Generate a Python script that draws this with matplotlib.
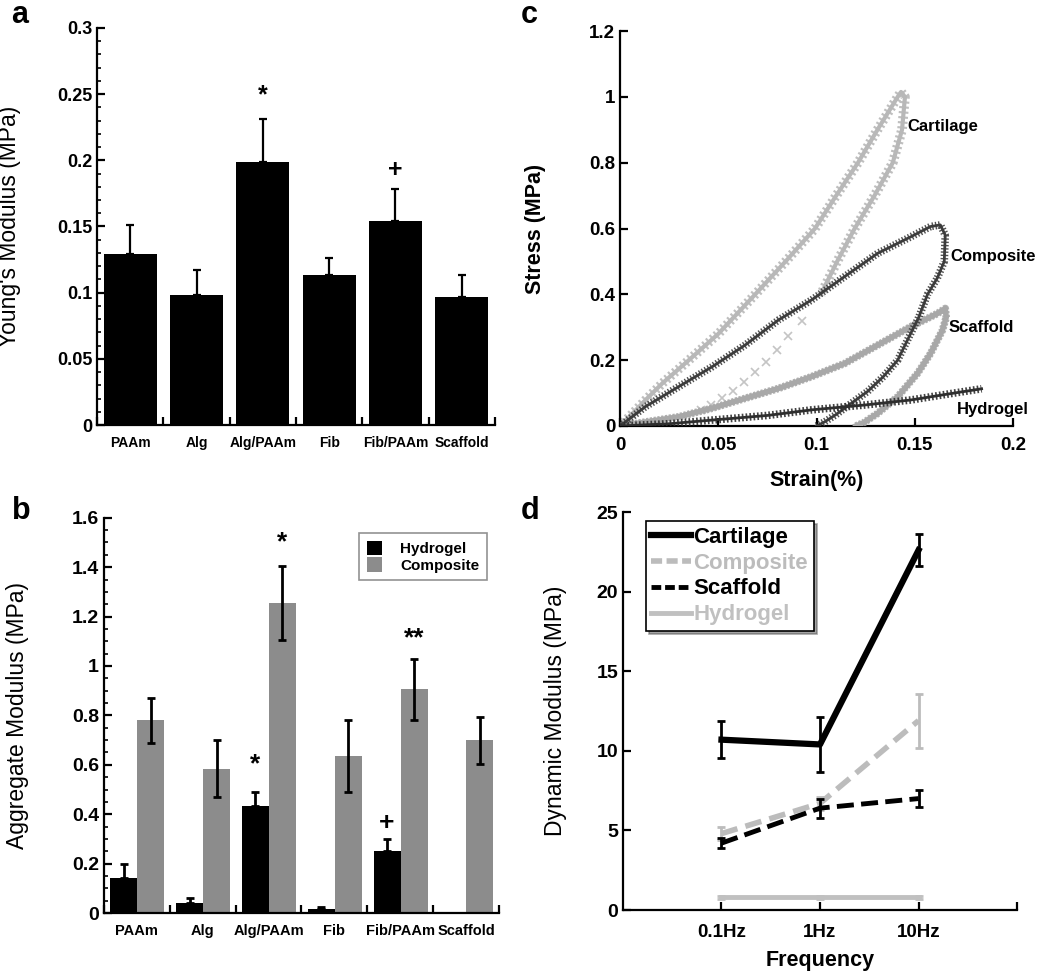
import matplotlib
matplotlib.use("Agg")
import matplotlib.pyplot as plt
from matplotlib.lines import Line2D
from matplotlib.ticker import MultipleLocator
import numpy as np

plt.rcParams['font.family'] = ['Liberation Sans', 'DejaVu Sans']
plt.rcParams['font.weight'] = 'bold'

# ---------------- data ----------------
# panel a
cats = ["PAAm", "Alg", "Alg/PAAm", "Fib", "Fib/PAAm", "Scaffold"]
young = [0.129, 0.098, 0.199, 0.113, 0.154, 0.097]
young_err = [0.022, 0.019, 0.032, 0.013, 0.024, 0.016]
a_marks = {"Alg/PAAm": ("*", 0.249), "Fib/PAAm": ("+", 0.193)}

# panel b
hydrogel_agg = [0.14, 0.04, 0.435, 0.015, 0.25, 0.0]
hydrogel_agg_err = [0.06, 0.02, 0.055, 0.01, 0.05, 0.0]
composite_agg = [0.78, 0.585, 1.255, 0.635, 0.905, 0.70]
composite_agg_err = [0.09, 0.115, 0.15, 0.145, 0.125, 0.095]

# panel c: stress-strain hysteresis loops (strain, stress)
cart_load_x = [0, 0.0064, 0.013, 0.0216, 0.035, 0.05, 0.0688, 0.085, 0.0992, 0.11, 0.1211, 0.131, 0.1413, 0.143]
cart_load_y = [0, 0.038, 0.079, 0.13, 0.20, 0.28, 0.40, 0.505, 0.60, 0.70, 0.80, 0.90, 1.0, 1.015]
cart_unl_x = [0.143, 0.145, 0.1435, 0.1388, 0.1295, 0.1194, 0.1105, 0.1022]
cart_unl_y = [1.015, 1.0, 0.90, 0.80, 0.70, 0.60, 0.50, 0.40]
cart_sparse_x = [0.0924, 0.0857, 0.0798, 0.0742, 0.0688, 0.0632, 0.0575, 0.052, 0.0464, 0.041]
cart_sparse_y = [0.318, 0.272, 0.231, 0.195, 0.165, 0.135, 0.106, 0.084, 0.064, 0.048]

comp_load_x = [0, 0.013, 0.030, 0.0469, 0.0637, 0.0806, 0.0975, 0.1143, 0.1312, 0.148, 0.158, 0.163]
comp_load_y = [0, 0.059, 0.12, 0.18, 0.246, 0.322, 0.383, 0.454, 0.525, 0.575, 0.606, 0.611]
comp_unl_x = [0.163, 0.1655, 0.165, 0.1615, 0.1565, 0.152, 0.147, 0.1413, 0.134, 0.126, 0.1177, 0.11, 0.104, 0.100]
comp_unl_y = [0.611, 0.58, 0.50, 0.45, 0.40, 0.33, 0.27, 0.20, 0.15, 0.105, 0.069, 0.035, 0.012, 0.0]

scaf_load_x = [0, 0.03, 0.0469, 0.0637, 0.0806, 0.0975, 0.1143, 0.1312, 0.148, 0.1616, 0.1655]
scaf_load_y = [0, 0.028, 0.054, 0.084, 0.114, 0.15, 0.19, 0.246, 0.302, 0.342, 0.357]
scaf_unl_x = [0.1655, 0.166, 0.164, 0.158, 0.1514, 0.1413, 0.131, 0.124, 0.12]
scaf_unl_y = [0.357, 0.33, 0.29, 0.22, 0.16, 0.089, 0.038, 0.01, 0.0]

hyd_load_x = [0, 0.0255, 0.047, 0.075, 0.0975, 0.125, 0.148, 0.17, 0.184]
hyd_load_y = [0, 0.007, 0.018, 0.032, 0.049, 0.064, 0.079, 0.10, 0.113]

c_labels = ["Cartilage", "Composite", "Scaffold", "Hydrogel"]
c_label_x = [0.146, 0.168, 0.167, 0.1715]
c_label_y = [0.909, 0.514, 0.298, 0.049]

# panel d
freqs = ["0.1Hz", "1Hz", "10Hz"]
dyn_cart = [10.7, 10.4, 22.6]
dyn_cart_err = [1.15, 1.7, 1.0]
dyn_comp = [4.8, 6.7, 11.9]
dyn_comp_err = [0.4, 0.4, 1.7]
dyn_scaf = [4.2, 6.4, 7.0]
dyn_scaf_err = [0.3, 0.6, 0.55]
dyn_hyd = [0.8, 0.8, 0.8]
dyn_hyd_err = [0.1, 0.1, 0.1]

# ---------------- figure ----------------
fig = plt.figure(figsize=(10.5, 9.71), dpi=100)

def style(ax, lw=1.6):
    for s in ["top", "right"]:
        ax.spines[s].set_visible(False)
    for s in ["left", "bottom"]:
        ax.spines[s].set_linewidth(lw)
    ax.tick_params(direction="in", width=lw, length=6)
    ax.tick_params(which="minor", direction="in", width=1.2, length=3)

def panel_letter(x, y, s):
    fig.text(x, y, s, fontsize=22, fontweight="bold", va="top", ha="left")

# ---- a ----
axa = fig.add_axes([0.0924, 0.5623, 0.379, 0.4089])
style(axa)
x = np.arange(len(cats))
axa.bar(x, young, width=0.8, color="black")
axa.errorbar(x, young, yerr=[np.zeros(len(cats)), young_err], fmt="none",
             ecolor="black", elinewidth=1.6, capsize=3, capthick=1.6)
axa.set_xlim(-0.5, 5.5)
axa.set_ylim(0, 0.3)
axa.set_yticks([0, 0.05, 0.1, 0.15, 0.2, 0.25, 0.3])
axa.set_yticklabels(["0", "0.05", "0.1", "0.15", "0.2", "0.25", "0.3"], fontsize=13)
axa.yaxis.set_minor_locator(MultipleLocator(0.01))
axa.set_xticks(np.arange(-0.5, 6, 1))
axa.set_xticklabels([])
axa.set_xticks(x, minor=True)
axa.set_xticklabels(cats, minor=True, fontsize=10)
axa.tick_params(axis="x", which="minor", length=0, pad=8)
axa.set_ylabel("Young's Modulus (MPa)", fontsize=16.5, fontweight="normal", va="center")
axa.yaxis.set_label_coords(-0.219, 0.5)
for k, (sym, yy) in a_marks.items():
    axa.text(cats.index(k), yy, sym, ha="center", va="center", fontsize=18)
panel_letter(0.011, 1.0, "a")

# ---- b ----
axb = fig.add_axes([0.099, 0.0597, 0.3762, 0.4071])
style(axb)
bw = 0.41
xh = x - bw / 2 + 0.005
xc = x + bw / 2 + 0.005
axb.bar(xh, hydrogel_agg, width=bw, color="black", label="Hydrogel")
axb.bar(xc, composite_agg, width=bw, color="#8c8c8c", label="Composite")
mask = np.array(hydrogel_agg) > 0
axb.errorbar(xh[mask], np.array(hydrogel_agg)[mask],
             yerr=[np.zeros(mask.sum()), np.array(hydrogel_agg_err)[mask]], fmt="none",
             ecolor="black", elinewidth=2, capsize=3, capthick=2)
axb.errorbar(xc, composite_agg, yerr=composite_agg_err, fmt="none",
             ecolor="black", elinewidth=2, capsize=3, capthick=2)
axb.set_xlim(-0.5, 5.5)
axb.set_ylim(0, 1.6)
axb.set_yticks([0, 0.2, 0.4, 0.6, 0.8, 1.0, 1.2, 1.4, 1.6])
axb.set_yticklabels(["0", "0.2", "0.4", "0.6", "0.8", "1", "1.2", "1.4", "1.6"], fontsize=14)
axb.yaxis.set_minor_locator(MultipleLocator(0.05))
axb.set_xticks(np.arange(-0.5, 6, 1))
axb.set_xticklabels([])
axb.set_xticks(x, minor=True)
axb.set_xticklabels(cats, minor=True, fontsize=10.5)
axb.tick_params(axis="x", which="minor", length=0, pad=8)
axb.set_ylabel("Aggregate Modulus (MPa)", fontsize=16.5, fontweight="normal", va="center")
axb.yaxis.set_label_coords(-0.22, 0.5)
axb.text(xc[2], 1.50, "*", ha="center", va="center", fontsize=19)
axb.text(xh[2], 0.60, "*", ha="center", va="center", fontsize=19)
axb.text(xc[4], 1.11, "**", ha="center", va="center", fontsize=19)
axb.text(xh[4], 0.364, "+", ha="center", va="center", fontsize=19)
leg = axb.legend(loc="upper right", bbox_to_anchor=(0.97, 0.961), fontsize=11,
                 frameon=True, fancybox=False, edgecolor="#777777",
                 handlelength=1.0, handleheight=1.1, borderpad=0.5, labelspacing=0.05,
                 handletextpad=1.2, borderaxespad=0)
leg.get_frame().set_linewidth(1.2)
panel_letter(0.011, 0.489, "b")

# ---- c ----
axc = fig.add_axes([0.5905, 0.5613, 0.3743, 0.4067])
style(axc)

def textured(ax, xs, ys, color, core=1.5, band=5.0, dash=(0.25, 0.35), zorder=2):
    ax.plot(xs, ys, color=color, lw=core, zorder=zorder, solid_joinstyle="round")
    ax.plot(xs, ys, color=color, lw=band, dashes=dash, zorder=zorder,
            dash_capstyle="butt", alpha=0.9)

textured(axc, cart_load_x + cart_unl_x[1:], cart_load_y + cart_unl_y[1:], "#b8b8b8",
         core=3.0, band=7.0, dash=(0.22, 0.3))
axc.plot(cart_sparse_x, cart_sparse_y, "x", color="#c4c4c4", ms=6, mew=1.2, zorder=2)
textured(axc, scaf_load_x + scaf_unl_x[1:], scaf_load_y + scaf_unl_y[1:], "#a8a8a8",
         core=4.0, band=5.5, dash=(0.3, 0.2), zorder=3)
textured(axc, comp_load_x + comp_unl_x[1:], comp_load_y + comp_unl_y[1:], "#3c3c3c",
         core=2.0, band=5.5, dash=(0.18, 0.25), zorder=4)
textured(axc, hyd_load_x, hyd_load_y, "#2e2e2e", core=2.0, band=5.5, dash=(0.22, 0.28), zorder=5)
axc.set_xlim(0, 0.2)
axc.set_ylim(0, 1.2)
axc.set_xticks([0, 0.05, 0.1, 0.15, 0.2])
axc.set_xticklabels(["0", "0.05", "0.1", "0.15", "0.2"], fontsize=13.5)
axc.set_yticks([0, 0.2, 0.4, 0.6, 0.8, 1.0, 1.2])
axc.set_yticklabels(["0", "0.2", "0.4", "0.6", "0.8", "1", "1.2"], fontsize=13.5)
axc.tick_params(axis="x", pad=8)
axc.set_xlabel("Strain(%)", fontsize=15.5, fontweight="bold", va="center")
axc.xaxis.set_label_coords(0.5, -0.137)
axc.set_ylabel("Stress (MPa)", fontsize=15.5, fontweight="bold", va="center")
axc.yaxis.set_label_coords(-0.214, 0.5)
for lab, lx, ly in zip(c_labels, c_label_x, c_label_y):
    axc.text(lx, ly, lab, ha="left", va="center", fontsize=12, fontweight="bold")
panel_letter(0.4955, 1.0, "c")

# ---- d ----
axd = fig.add_axes([0.5933, 0.0628, 0.3753, 0.4099])
style(axd)
xd = np.arange(1, 4)
axd.errorbar(xd, dyn_hyd, yerr=dyn_hyd_err, color="#c0c0c0", lw=3.5, ls="-",
             capsize=3, capthick=2, elinewidth=2, zorder=2)
axd.errorbar(xd, dyn_comp, yerr=dyn_comp_err, color="#bcbcbc", lw=4, ls=(0, (3, 1.5)),
             capsize=3, capthick=2, elinewidth=2, zorder=3)
axd.errorbar(xd, dyn_scaf, yerr=dyn_scaf_err, color="black", lw=3.5, ls=(0, (3.5, 1.5)),
             capsize=3, capthick=2, elinewidth=2, zorder=4)
axd.errorbar(xd, dyn_cart, yerr=dyn_cart_err, color="black", lw=4.5, ls="-",
             capsize=3, capthick=2, elinewidth=2, zorder=5)
axd.set_xlim(0, 4)
axd.set_ylim(0, 25)
axd.set_xticks([1, 2, 3, 4])
axd.set_xticklabels(freqs + [""], fontsize=13.5)
axd.set_yticks([0, 5, 10, 15, 20, 25])
axd.set_yticklabels(["0", "5", "10", "15", "20", "25"], fontsize=14)
axd.tick_params(axis="x", pad=10)
axd.set_xlabel("Frequency", fontsize=15.5, fontweight="bold", va="center")
axd.xaxis.set_label_coords(0.5, -0.126)
axd.set_ylabel("Dynamic Modulus (MPa)", fontsize=16.5, fontweight="normal", va="center")
axd.yaxis.set_label_coords(-0.17, 0.5)
handles = [Line2D([], [], color="black", lw=4.5, ls="-"),
           Line2D([], [], color="#bcbcbc", lw=4, ls=(0, (2, 0.8))),
           Line2D([], [], color="black", lw=3.5, ls=(0, (2, 0.8))),
           Line2D([], [], color="#c0c0c0", lw=3.5, ls="-")]
labels_d = ["Cartilage", "Composite", "Scaffold", "Hydrogel"]
legd = axd.legend(handles, labels_d, loc="upper left", bbox_to_anchor=(0.058, 0.977),
                  fontsize=16, frameon=True, fancybox=False, shadow=True,
                  edgecolor="black", framealpha=1, handlelength=1.8, handletextpad=0.1,
                  borderpad=0.25, labelspacing=0.22, borderaxespad=0)
legd.get_frame().set_linewidth(1.2)
for t, c in zip(legd.get_texts(), ["black", "#bcbcbc", "black", "#c0c0c0"]):
    t.set_color(c)
    t.set_fontweight("bold")
panel_letter(0.4955, 0.489, "d")

fig.savefig("out.png", dpi=100)
